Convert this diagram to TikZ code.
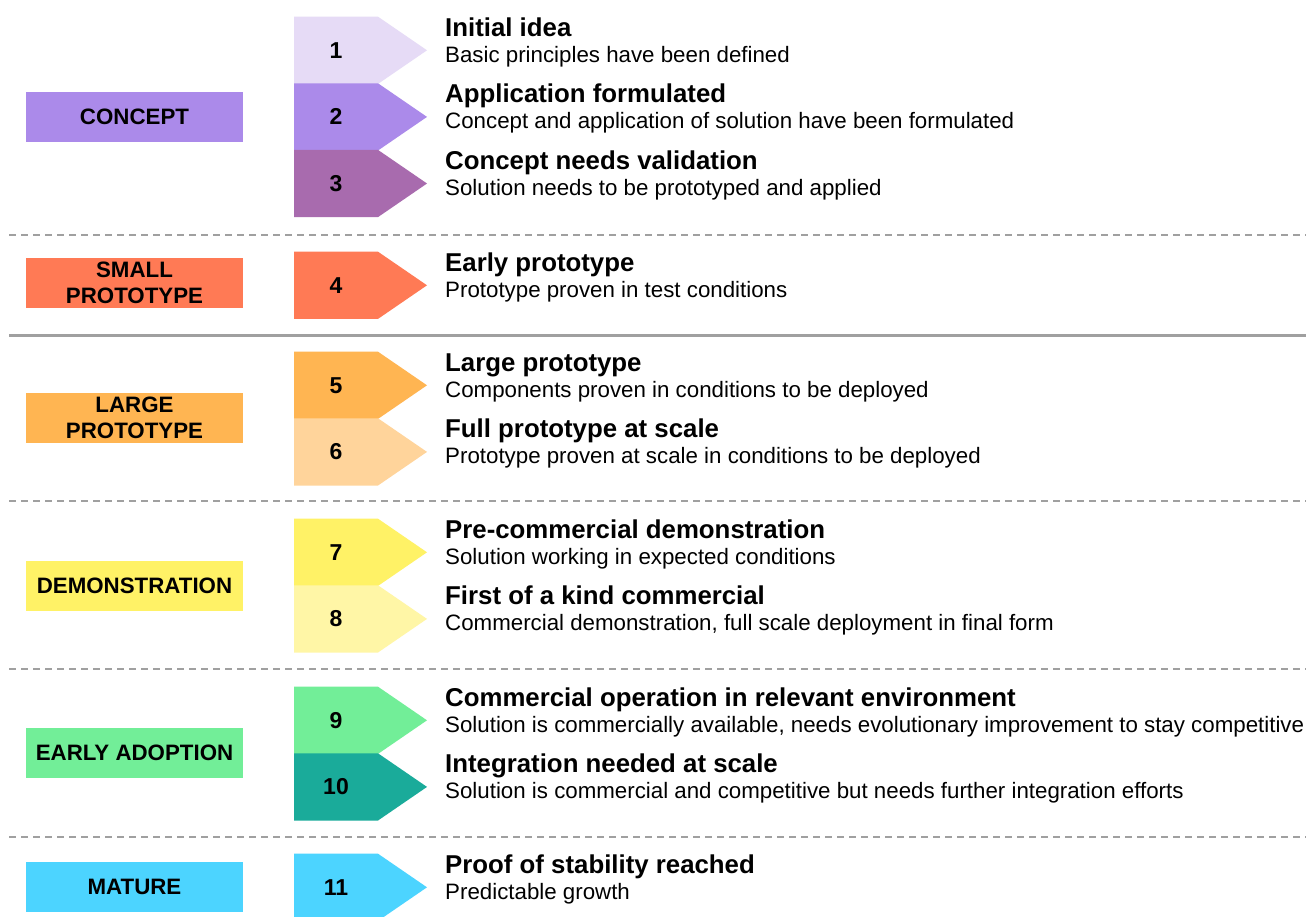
\documentclass[tikz,border=0pt]{standalone}
\usepackage{fontspec}
\setmainfont{Liberation Sans}
\definecolor{c1}{HTML}{E6DBF6}
\definecolor{c2}{HTML}{AB8AEA}
\definecolor{c3}{HTML}{A86BAE}
\definecolor{c4}{HTML}{FF7A55}
\definecolor{c5}{HTML}{FFB552}
\definecolor{c6}{HTML}{FFD49B}
\definecolor{c7}{HTML}{FFF266}
\definecolor{c8}{HTML}{FFF6A6}
\definecolor{c9}{HTML}{72EE98}
\definecolor{c10}{HTML}{1AAB9A}
\definecolor{c11}{HTML}{4CD4FF}
\definecolor{sepgray}{HTML}{A0A0A0}
\tikzset{
  numtext/.style={font=\bfseries\fontsize{23}{23}\selectfont, inner sep=0},
  titletext/.style={anchor=base west, font=\bfseries\fontsize{25.8}{25.8}\selectfont, inner sep=0},
  subtext/.style={anchor=base west, font=\fontsize{22.3}{22.3}\selectfont, inner sep=0},
  stagebox/.style={minimum width=217, minimum height=50, inner sep=0, align=center, font=\bfseries\fontsize{22.3}{26.5}\selectfont},
  dashsep/.style={draw=sepgray, line width=2, dash pattern=on 7 off 5},
  solidsep/.style={draw=sepgray, line width=3},
}
\newcommand{\trlrow}[6]{%
  \fill[#3] (294,#2-0.3) -- (378,#2-0.3) -- (427,#2+33.3) -- (378,#2+66.9) -- (294,#2+66.9) -- cycle;
  \node[numtext] (n#1) at (336,#2+33.3) {#4};
  \node[titletext] (t#1) at (445,#2+19) {#5};
  \node[subtext] (s#1) at (445,#2+45) {#6};
}
\begin{document}
\begin{tikzpicture}[x=1pt,y=-1pt]
\useasboundingbox (0,0) rectangle (1306,916);
\fill[white] (0,0) rectangle (1306,916);
% separators
\coordinate (d1a) at (9,235); \coordinate (d1b) at (1306,235);
\coordinate (s1a) at (9,335); \coordinate (s1b) at (1306,335);
\coordinate (d2a) at (9,501); \coordinate (d2b) at (1306,501);
\coordinate (d3a) at (9,669); \coordinate (d3b) at (1306,669);
\coordinate (d4a) at (9,837); \coordinate (d4b) at (1306,837);
\draw[dashsep] (d1a) -- (d1b);
\draw[solidsep] (s1a) -- (s1b);
\draw[dashsep] (d2a) -- (d2b);
\draw[dashsep] (d3a) -- (d3b);
\draw[dashsep] (d4a) -- (d4b);
% rows
\trlrow{1}{17}{c1}{1}{Initial idea}{Basic principles have been defined}
\trlrow{2}{83.6}{c2}{2}{Application formulated}{Concept and application of solution have been formulated}
\trlrow{3}{150.2}{c3}{3}{Concept needs validation}{Solution needs to be prototyped and applied}
\trlrow{4}{252}{c4}{4}{Early prototype}{Prototype proven in test conditions}
\trlrow{5}{352}{c5}{5}{Large prototype}{Components proven in conditions to be deployed}
\trlrow{6}{418.6}{c6}{6}{Full prototype at scale}{Prototype proven at scale in conditions to be deployed}
\trlrow{7}{519}{c7}{7}{Pre-commercial demonstration}{Solution working in expected conditions}
\trlrow{8}{585.6}{c8}{8}{First of a kind commercial}{Commercial demonstration, full scale deployment in final form}
\trlrow{9}{687}{c9}{9}{Commercial operation in relevant environment}{Solution is commercially available, needs evolutionary improvement to stay competitive}
\trlrow{10}{753.6}{c10}{10}{Integration needed at scale}{Solution is commercial and competitive but needs further integration efforts}
\trlrow{11}{854}{c11}{11}{Proof of stability reached}{Predictable growth}
% stage labels
\node[stagebox, fill=c2] (concept) at (134.5,117) {CONCEPT};
\node[stagebox, fill=c4] (small) at (134.5,283) {SMALL\\PROTOTYPE};
\node[stagebox, fill=c5] (large) at (134.5,418) {LARGE\\PROTOTYPE};
\node[stagebox, fill=c7] (demo) at (134.5,586) {DEMONSTRATION};
\node[stagebox, fill=c9] (early) at (134.5,753) {EARLY ADOPTION};
\node[stagebox, fill=c11] (mature) at (134.5,886.5) {MATURE};
\end{tikzpicture}
\end{document}
